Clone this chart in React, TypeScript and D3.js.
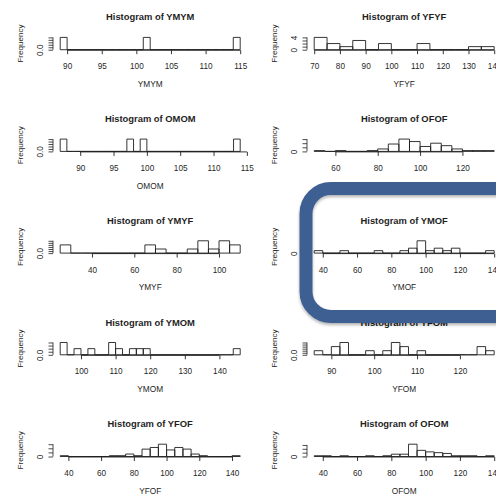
import { useEffect, useRef } from "react";
import * as d3 from "d3";

// each histogram: [first break, bin width], counts per bin, axis ticks
const ymymBins = [89, 1];
const ymymCounts = [1, 0, 0, 0, 0, 0, 0, 0, 0, 0, 0, 0, 1, 0, 0, 0, 0, 0, 0, 0, 0, 0, 0, 0, 0, 1];
const ymymXTicks = [90, 95, 100, 105, 110, 115];

const yfyfBins = [70, 5];
const yfyfCounts = [4, 2, 1, 3, 0, 2, 0, 0, 2, 0, 0, 0, 1, 1];
const yfyfXTicks = [70, 80, 90, 100, 110, 120, 130, 140];

const omomBins = [87, 1];
const omomCounts = [1, 0, 0, 0, 0, 0, 0, 0, 0, 0, 1, 0, 1, 0, 0, 0, 0, 0, 0, 0, 0, 0, 0, 0, 0, 0, 1];
const omomXTicks = [90, 95, 100, 105, 110, 115];

const ofofBins = [50, 5];
const ofofCounts = [1, 0, 1, 0, 0, 1, 3, 9, 15, 12, 6, 10, 7, 3, 1, 1, 1];
const ofofXTicks = [60, 80, 100, 120];

const ymyfBins = [25, 5];
const ymyfCounts = [2, 0, 0, 0, 0, 0, 0, 0, 2, 1, 0, 0, 1, 3, 1, 3, 2];
const ymyfXTicks = [40, 60, 80, 100];

const ymofBins = [35, 5];
const ymofCounts = [1, 0, 0, 1, 0, 0, 0, 1, 0, 0, 1, 2, 5, 1, 2, 1, 2, 0, 0, 0, 1];
const ymofXTicks = [40, 60, 80, 100, 120, 140];

const ymomBins = [94, 2];
const ymomCounts = [2, 0, 1, 0, 1, 0, 0, 2, 1, 0, 1, 1, 1, 0, 0, 0, 0, 0, 0, 0, 0, 0, 0, 0, 0, 1];
const ymomXTicks = [100, 110, 120, 130, 140];

const yfomBins = [86, 2];
const yfomCounts = [1, 0, 2, 3, 0, 0, 1, 0, 1, 3, 2, 0, 1, 0, 0, 0, 0, 0, 0, 2, 1];
const yfomXTicks = [90, 100, 110, 120];

const yfofBins = [35, 5];
const yfofCounts = [1, 0, 0, 0, 0, 0, 1, 1, 3, 1, 9, 11, 15, 8, 11, 9, 3, 1, 0, 0, 0, 1];
const yfofXTicks = [40, 60, 80, 100, 120, 140];

const ofomBins = [35, 5];
const ofomCounts = [1, 1, 0, 1, 0, 0, 1, 0, 1, 3, 3, 16, 8, 6, 5, 4, 1, 1, 1, 0, 1];
const ofomXTicks = [40, 60, 80, 100, 120, 140];

// frequency axes (only labels that R had room for)
const unitTicks = [0, 0.2, 0.4, 0.6, 0.8, 1];
const unitLabels = ["0.0", "", "", "", "", ""];
const fourTicks = [0, 1, 2, 3, 4];
const fourLabels = ["0", "", "", "", "4"];
const fiveTicks = [0, 1, 2, 3, 4, 5];
const fiveLabels = ["0", "", "", "", "", ""];
const halfTicks2 = [0, 0.5, 1, 1.5, 2];
const halfLabels2 = ["0.0", "", "", "", ""];
const halfTicks3 = [0, 0.5, 1, 1.5, 2, 2.5, 3];
const halfLabels3 = ["0.0", "", "", "", "", "", ""];
const fivesTicks = [0, 5, 10, 15];
const fivesLabels = ["0", "", "", ""];

const panels = [
  { name: "YMYM", col: 0, row: 0, bins: ymymBins, counts: ymymCounts, xTicks: ymymXTicks, yTicks: unitTicks, yLabels: unitLabels },
  { name: "YFYF", col: 1, row: 0, bins: yfyfBins, counts: yfyfCounts, xTicks: yfyfXTicks, yTicks: fourTicks, yLabels: fourLabels },
  { name: "OMOM", col: 0, row: 1, bins: omomBins, counts: omomCounts, xTicks: omomXTicks, yTicks: unitTicks, yLabels: unitLabels },
  { name: "OFOF", col: 1, row: 1, bins: ofofBins, counts: ofofCounts, xTicks: ofofXTicks, yTicks: fivesTicks, yLabels: fivesLabels },
  { name: "YMYF", col: 0, row: 2, bins: ymyfBins, counts: ymyfCounts, xTicks: ymyfXTicks, yTicks: halfTicks3, yLabels: halfLabels3 },
  { name: "YMOF", col: 1, row: 2, bins: ymofBins, counts: ymofCounts, xTicks: ymofXTicks, yTicks: fiveTicks, yLabels: fiveLabels },
  { name: "YMOM", col: 0, row: 3, bins: ymomBins, counts: ymomCounts, xTicks: ymomXTicks, yTicks: halfTicks2, yLabels: halfLabels2 },
  { name: "YFOM", col: 1, row: 3, bins: yfomBins, counts: yfomCounts, xTicks: yfomXTicks, yTicks: halfTicks3, yLabels: halfLabels3 },
  { name: "YFOF", col: 0, row: 4, bins: yfofBins, counts: yfofCounts, xTicks: yfofXTicks, yTicks: fivesTicks, yLabels: fivesLabels },
  { name: "OFOM", col: 1, row: 4, bins: ofomBins, counts: ofomCounts, xTicks: ofomXTicks, yTicks: fivesTicks, yLabels: fivesLabels },
];

export default function App() {
  const svgRef = useRef<SVGSVGElement>(null);

  useEffect(() => {
    if (!svgRef.current) return;
    const svg = d3.select(svgRef.current);
    const font = "'Liberation Sans', Arial, Helvetica, sans-serif";
    const ink = "#1f1f1f";
    const plotW = 194.4;
    const colLeft = [53, 307];
    const rowPitch = 101.7;

    panels.forEach(p => {
      const left = colLeft[p.col];
      const top = p.row * rowPitch;
      const cx = left + plotW / 2;
      const [b0, bw] = p.bins;
      const breaks = d3.range(p.counts.length + 1).map(i => b0 + i * bw);
      const span = breaks[breaks.length - 1] - b0;
      // R pads the usr range by 4% each side
      const x = d3.scaleLinear([b0 - 0.04 * span, b0 + 1.04 * span], [left, left + plotW]);
      const ymax = d3.max(p.counts) as number;
      const y = d3.scaleLinear([-0.04 * ymax, 1.04 * ymax], [top + 50.2, top + 36.9]);
      const g = svg.append("g");

      // bars (zero counts still leave a flat line, like R's rect)
      g.append("g")
        .selectAll("path")
        .data(p.counts)
        .join("path")
        .attr("d", (c, i) => {
          const x0 = x(breaks[i]), x1 = x(breaks[i + 1]), y0 = y(0), y1 = y(c);
          return `M${x0},${y0}V${y1}H${x1}V${y0}Z`;
        })
        .attr("fill", "none")
        .attr("stroke", ink)
        .attr("stroke-width", 0.9);

      // x axis, line only between first and last tick
      const xt = p.xTicks;
      g.append("g")
        .attr("transform", `translate(0,${top + 50.2})`)
        .call(d3.axisBottom(x).tickValues(xt).tickSize(4).tickPadding(9.2).tickFormat(d3.format("d")))
        .call(a => a.select(".domain").attr("d", `M${x(xt[0])},0H${x(xt[xt.length - 1])}`))
        .call(a => a.attr("font-size", 8.2).attr("font-family", font))
        .call(a => a.selectAll("line, path").attr("stroke", ink).attr("stroke-width", 0.9))
        .call(a => a.selectAll("text").attr("fill", ink));

      // y axis with rotated labels
      const yt = p.yTicks;
      g.append("g")
        .attr("transform", `translate(${left},0)`)
        .call(d3.axisLeft(y).tickValues(yt).tickSize(4.5).tickFormat((_, i) => p.yLabels[i]))
        .call(a => a.select(".domain").attr("d", `M0,${y(0)}V${y(yt[yt.length - 1])}`))
        .call(a => a.attr("font-size", 8.2).attr("font-family", font))
        .call(a => a.selectAll("line, path").attr("stroke", ink).attr("stroke-width", 0.8))
        .call(a => a.selectAll("text")
          .attr("x", 0)
          .attr("dy", "0.35em")
          .attr("fill", ink)
          .attr("text-anchor", "middle")
          .attr("transform", "translate(-13,0) rotate(-90)"));

      g.append("text")
        .attr("x", cx)
        .attr("y", top + 20.4)
        .attr("text-anchor", "middle")
        .attr("font-family", font)
        .attr("font-weight", "bold")
        .attr("font-size", 9.4)
        .attr("fill", ink)
        .text(`Histogram of ${p.name}`);

      g.append("text")
        .attr("x", cx)
        .attr("y", top + 87)
        .attr("text-anchor", "middle")
        .attr("font-family", font)
        .attr("font-size", 8.3)
        .attr("fill", ink)
        .text(p.name);

      g.append("text")
        .attr("transform", `translate(${left - 33},${top + 43.5}) rotate(-90)`)
        .attr("dy", "0.35em")
        .attr("text-anchor", "middle")
        .attr("font-family", font)
        .attr("font-size", 8.1)
        .attr("fill", ink)
        .text("Frequency");
    });

    // highlight frame round the YMOF panel
    const defs = svg.append("defs");
    defs.append("filter")
      .attr("id", "frameShadow")
      .attr("x", "-10%").attr("y", "-10%").attr("width", "120%").attr("height", "130%")
      .append("feDropShadow")
      .attr("dx", 0).attr("dy", 2).attr("stdDeviation", 1.8)
      .attr("flood-color", "#000").attr("flood-opacity", 0.3);

    svg.append("rect")
      .attr("x", 306)
      .attr("y", 188.5)
      .attr("width", 230)
      .attr("height", 128)
      .attr("rx", 25)
      .attr("fill", "none")
      .attr("stroke", "#3e5e91")
      .attr("stroke-width", 13)
      .attr("filter", "url(#frameShadow)");

    return () => {
      svg.selectAll("*").remove();
    };
  }, []);

  return (
    <svg
      ref={svgRef}
      width={496}
      height={495}
      viewBox="0 0 496 495"
      style={{ position: "absolute", left: 0, top: 0, background: "#fff" }}
    />
  );
}
